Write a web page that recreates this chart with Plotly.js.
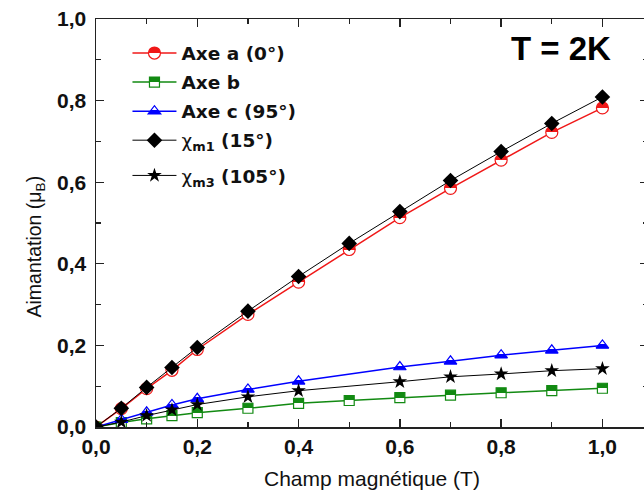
<!DOCTYPE html>
<html>
<head>
<meta charset="utf-8">
<script src="https://cdn.plot.ly/plotly-3.0.1.min.js"></script>
<style>
html, body { margin: 0; padding: 0; overflow: hidden; background: #fff; width: 644px; height: 490px; }
#wrap { width: 644px; height: 490px; overflow: hidden; position: relative; }
#chart { width: 660px; height: 490px; }
</style>
</head>
<body>
<div id="wrap"><div id="chart"></div></div>
<script>
// Field values (T)
const xField = [0, 0.05, 0.1, 0.15, 0.2, 0.3, 0.4, 0.5, 0.6, 0.7, 0.8, 0.9, 1.0];
const xFieldNo05 = [0, 0.05, 0.1, 0.15, 0.2, 0.3, 0.4, 0.6, 0.7, 0.8, 0.9, 1.0];

// Magnetisation (µB)
const axeA = [0, 0.045, 0.094, 0.139, 0.19, 0.276, 0.355, 0.435, 0.513, 0.585, 0.654, 0.722, 0.782];
const axeB = [0, 0.011, 0.02, 0.028, 0.035, 0.046, 0.058, 0.065, 0.072, 0.078, 0.084, 0.089, 0.095];
const axeC = [0, 0.018, 0.036, 0.054, 0.069, 0.092, 0.112, 0.147, 0.161, 0.176, 0.188, 0.2];
const chiM1 = [0, 0.046, 0.097, 0.146, 0.195, 0.284, 0.369, 0.45, 0.528, 0.604, 0.675, 0.744, 0.809];
const chiM3 = [0, 0.012, 0.028, 0.042, 0.055, 0.074, 0.089, 0.111, 0.123, 0.13, 0.138, 0.143];

const names = ['Axe a (0°)', 'Axe b', 'Axe c (95°)',
  '<span style="font-weight:normal">χ</span><sub>m1</sub> (15°)',
  '<span style="font-weight:normal">χ</span><sub>m3</sub> (105°)'];
const yTicks = [0, 0.2, 0.4, 0.6, 0.8, 1.0];
const xTicks = [0, 0.2, 0.4, 0.6, 0.8, 1.0];
const xTitle = 'Champ magnétique (T)';
const yTitle = 'Aimantation (μ<sub>B</sub>)';
const tempLabel = 'T = 2K';

const RED = '#f01818', GREEN = '#128a12', BLUE = '#0000ff';
const SANS = 'Liberation Sans, Arial, sans-serif';

const traces = [
  {x: xField, y: axeA, name: names[0], legendgroup: 'a', mode: 'lines+markers',
   line: {color: RED, width: 1.5},
   marker: {symbol: 'circle', size: 12, color: RED, gradient: {type: 'vertical', color: '#ffffff'}, line: {color: RED, width: 1.2}}},
  {x: xField, y: axeB, name: names[1], legendgroup: 'b', mode: 'lines+markers',
   line: {color: GREEN, width: 1.5},
   marker: {symbol: 'square', size: 10, color: GREEN, gradient: {type: 'vertical', color: '#ffffff'}, line: {color: GREEN, width: 1.2}}},
  {x: xFieldNo05, y: axeC, name: names[2], legendgroup: 'c', mode: 'lines+markers',
   line: {color: BLUE, width: 1.5},
   marker: {symbol: 'triangle-up', size: 11, color: BLUE, gradient: {type: 'vertical', color: '#ffffff'}, line: {color: BLUE, width: 1.2}}},
  {x: xField, y: chiM1, name: names[3], legendgroup: 'm1', mode: 'lines+markers',
   line: {color: '#000000', width: 1},
   marker: {symbol: 'diamond', size: 12, color: '#000000'}},
  {x: xFieldNo05, y: chiM3, name: names[4], legendgroup: 'm3', legend: 'legend2', mode: 'lines+markers',
   line: {color: '#000000', width: 1},
   marker: {symbol: 'star', size: 11, color: '#000000'}}
];

const axisCommon = {
  showline: true, linecolor: '#222', linewidth: 1.5, mirror: 'ticks',
  ticks: 'inside', ticklen: 8, tickwidth: 1.3, tickcolor: '#222',
  showgrid: false, zeroline: false,
  tickfont: {family: SANS, size: 21, color: '#111', weight: 'bold'},
  tickformat: '.1f',
  minor: {ticks: 'inside', ticklen: 5, tickwidth: 1.3, tickcolor: '#222', dtick: 0.1, showgrid: false}
};

const legendFont = {size: 18.5, weight: 'bold', family: 'DejaVu Sans, sans-serif', color: '#111'};

const layout = {
  width: 660, height: 490,
  margin: {l: 96, r: 12, t: 19, b: 63},
  separators: ', ',
  paper_bgcolor: '#ffffff', plot_bgcolor: '#ffffff',
  font: {family: SANS, color: '#111'},
  showlegend: true,
  legend: {x: 0.057, y: 0.962, xanchor: 'left', yanchor: 'top', bgcolor: 'rgba(0,0,0,0)',
           font: legendFont, tracegroupgap: 2, itemwidth: 44, traceorder: 'grouped'},
  legend2: {x: 0.057, y: 0.662, xanchor: 'left', yanchor: 'top', bgcolor: 'rgba(0,0,0,0)',
           font: legendFont, itemwidth: 44},
  xaxis: Object.assign({}, axisCommon, {range: [0, 1.09], tickvals: xTicks}),
  yaxis: Object.assign({}, axisCommon, {range: [0, 1.0], tickvals: yTicks, ticklabelstandoff: 4}),
  annotations: [
    {text: tempLabel, xref: 'paper', yref: 'paper', x: 0.843, y: 0.928, xanchor: 'center', yanchor: 'middle',
     showarrow: false, font: {size: 33, weight: 'bold', family: SANS, color: '#000'}},
    {text: xTitle, xref: 'paper', yref: 'paper', x: 0.5, y: -0.126, xanchor: 'center', yanchor: 'middle',
     showarrow: false, font: {size: 21, family: SANS, color: '#111'}},
    {text: yTitle, xref: 'paper', yref: 'paper', x: -0.11, y: 0.443, xanchor: 'center', yanchor: 'middle',
     textangle: -90, showarrow: false, font: {size: 19.5, family: SANS, color: '#111'}}
  ]
};

// Make the half-filled markers sharp: top/bottom halves instead of a smooth blend
function sharpenGradients(gd) {
  gd.querySelectorAll('linearGradient').forEach(function (g) {
    const stops = Array.from(g.querySelectorAll('stop'));
    if (stops.length < 2) return;
    const cols = stops.map(s => s.getAttribute('stop-color'));
    const isWhite = c => /^(#fff(fff)?|white|rgb\(255, ?255, ?255\))$/i.test((c || '').trim());
    const colored = cols.find(c => !isWhite(c)) || cols[0];
    const white = '#ffffff';
    const isBlue = /rgb\(0, ?0, ?255\)|#0000ff/i.test(colored);
    const top = isBlue ? white : colored;
    const bottom = isBlue ? colored : white;
    g.setAttribute('gradientUnits', 'objectBoundingBox');
    g.setAttribute('x1', '0'); g.setAttribute('y1', '0');
    g.setAttribute('x2', '0'); g.setAttribute('y2', '1');
    stops.forEach(s => s.remove());
    [[0, top], [0.5, top], [0.5, bottom], [1, bottom]].forEach(function (p) {
      const s = document.createElementNS('http://www.w3.org/2000/svg', 'stop');
      s.setAttribute('offset', String(p[0]));
      s.setAttribute('stop-color', p[1]);
      s.setAttribute('stop-opacity', '1');
      g.appendChild(s);
    });
  });
}

Plotly.newPlot('chart', traces, layout, {displayModeBar: false, staticPlot: true})
  .then(function (gd) { sharpenGradients(gd); });
</script>
</body>
</html>
